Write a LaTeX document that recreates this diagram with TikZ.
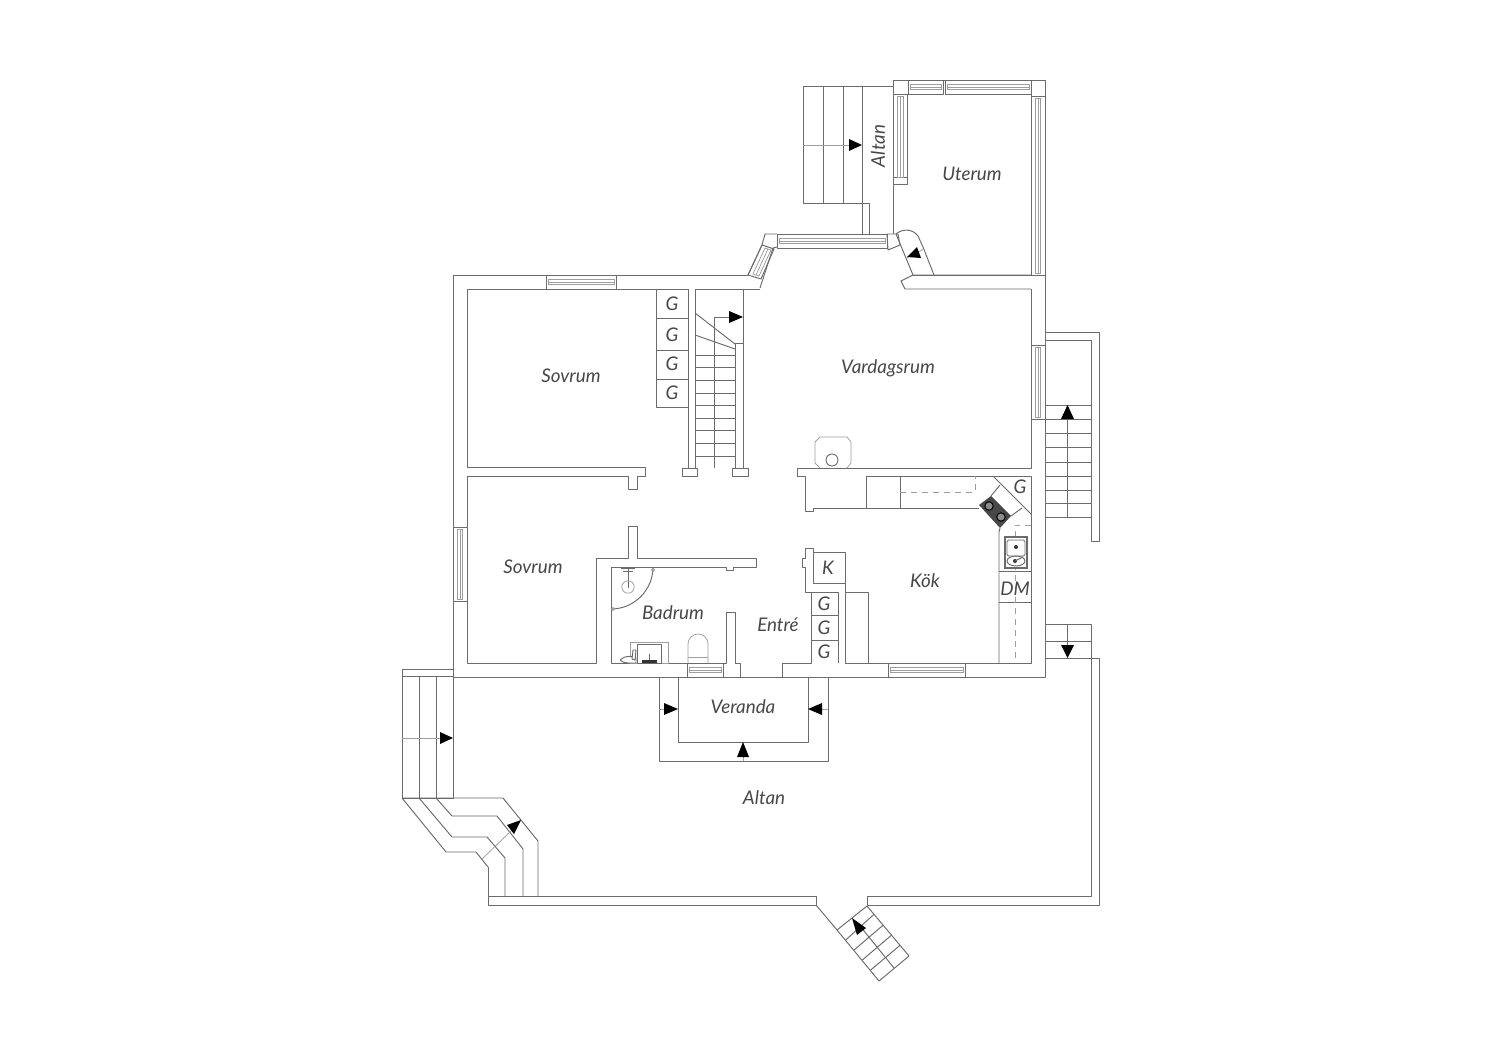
\documentclass[tikz,border=0pt]{standalone}
\usepackage{fontspec}
\setmainfont{Lato}
\usetikzlibrary{arrows.meta}
\definecolor{wallc}{gray}{0.42}
\definecolor{finec}{gray}{0.62}
\tikzset{
  wl/.style={draw=wallc,line width=0.95pt,line join=round},
  fine/.style={draw=finec,line width=0.75pt},
  dashln/.style={draw=finec,line width=0.8pt,dash pattern=on 6pt off 5pt},
  lab/.style={font=\fontsize{18.8}{20}\selectfont\itshape,text=black!72,inner sep=0pt},
  ah/.style={fill=black,draw=none}
}
\newcommand{\winH}[3]{% x1,x2,ytop  (height 14)
  \draw[wl] (#1,#3) rectangle (#2,#3+14);
  \draw[fine] (#1+2,#3+4.5) rectangle (#2-2,#3+9.5);
  \draw[fine] (#1+2,#3+7) -- (#2-2,#3+7);}
\newcommand{\winV}[3]{% xleft,y1,y2
  \draw[wl] (#1,#2) rectangle (#1+14,#3);
  \draw[fine] (#1+4.5,#2+2) rectangle (#1+9.5,#3-2);
  \draw[fine] (#1+7,#2+2) -- (#1+7,#3-2);}
\begin{document}
\begin{tikzpicture}[x=1pt,y=-1pt]
\useasboundingbox (0,0) rectangle (1500,1060);
\fill[white] (0,0) rectangle (1500,1060);
% outer walls
\draw[wl] (748,275) -- (453,275) -- (453,677) -- (1045,677) -- (1045,80) -- (893,80) -- (893,234);
\draw[wl] (748,275) -- (762,245) -- (765,234) -- (777,234);
\draw[wl] (760,288) -- (773,248) -- (777,247);
% diagonal window
\draw[wl] (762,245) -- (774,249) -- (761,279) -- (748,275) -- cycle;
\draw[fine] (765,248) -- (771,250) -- (759,276) -- (753,274) -- cycle;
\draw[fine] (768,249) -- (756,275);
% upper window
\winH{777}{887}{234}
\winH{546}{616}{275}
\winH{888}{965}{663}
\winH{687}{723}{663}
\winV{453}{527}{601}
\winV{1031}{345}{419}
\winV{1031}{96}{275}
% uterum
\draw[wl] (893,94) rectangle (908,80);
\draw[wl] (1031,96) rectangle (1045,80);
\winH{908}{943}{80}
\winH{945}{1031}{80}
\draw[wl] (893,94) -- (907,94) -- (907,184) -- (893,184);
\draw[wl] (893,177) -- (907,177);
\draw[fine] (897,96) rectangle (903,177);
\draw[fine] (900,96) -- (900,177);
% door uterum / vardagsrum
\draw[wl] (887,234) -- (898,234) -- (900,245) -- (888,250) -- cycle;
\draw[wl] (913,275) -- (896,234) .. controls (902,229) and (912,228) .. (918,236) -- (923,247) -- (934,275);
\draw[wl] (1031,275) -- (913,275) -- (901,281) -- (905,289) -- (1031,289);
\draw[wl] (913,275) -- (1045,275);
\draw[fine] (907,258) -- (924,249);
\fill[ah] (907,257) -- (917,247) -- (921,258) -- cycle;
% room walls: sovrum 1
\draw[wl] (688,468) -- (688,289) -- (467,289) -- (467,467) -- (645,467) -- (645,476) -- (637,476) -- (637,489) -- (628,489) -- (628,476) -- (467,476) -- (467,663) -- (596,663) -- (596,558) -- (628,558) -- (628,526) -- (637,526) -- (637,558) -- (756,558) -- (756,567) -- (733,567) -- (733,570) -- (726,570) -- (726,567) -- (611,567) -- (611,663) -- (726,663) -- (726,612) -- (735,612) -- (735,663) -- (740,663) -- (740,677);
\draw[wl] (782,677) -- (782,663) -- (811,663) -- (811,592) -- (805,592) -- (805,567) -- (802,567) -- (802,558) -- (805,558) -- (805,548) -- (813,548) -- (813,583);
% closet K
\draw[wl] (813,552) -- (845,552) -- (845,663);
\draw[wl] (813,583) -- (845,583);
% closet G
\draw[wl] (811,592) -- (838,592) -- (838,663);
\draw[wl] (811,615) -- (838,615) (811,640) -- (838,640);
% kitchen
\draw[wl] (845,592) -- (868,592) -- (868,663);
\draw[wl] (845,663) -- (1031,663) -- (1031,476) -- (866,476) -- (866,508);
\draw[wl] (797,476) -- (797,468) -- (1031,468) -- (1031,289);
\draw[wl] (797,476) -- (805,476) -- (805,511) -- (813,511) -- (813,508) -- (979,508);
\draw[wl] (900,476) -- (900,508);
\draw[dashln] (900,492) -- (975,492) -- (975,476);
\draw[wl] (993,476) -- (1031,514);
\draw[wl] (1000,485) -- (991,496);
\draw[wl] (1022,508) -- (1011,516);
\draw[wl] (1000,528) -- (999,532) -- (999,663);
\draw[wl] (999,571) -- (1031,571) (999,602) -- (1031,602);
\draw[dashln] (1031,525) -- (1015,525) -- (1015,663);
% stove
\fill[black!72] (979,505) -- (991,496) -- (1011,516) -- (1000,528) -- cycle;
\draw[fill=black!45,draw=black,line width=1pt] (989,506) circle (4.2);
\draw[fill=black!45,draw=black,line width=1pt] (1001,517) circle (4.2);
% sink
\draw[draw=wallc,line width=1.5pt,fill=white] (1005,537) rectangle (1027,568);
\draw[wl,rounded corners=1.5pt] (1007,540) rectangle (1025,556);
\draw[wl] (1016,561) ellipse (9 and 5);
\fill[black!80] (1016,547) circle (2);
\fill[black!80] (1015,561) circle (2);
\draw[wl] (1015,561) -- (1023,557);
% top stair wall
\draw[wl] (695,468) -- (695,289) -- (760,289);
\draw[wl] (743,468) -- (743,289);
\draw[wl] (735,468) -- (735,343) -- (743,343);
\draw[wl] (682,476) rectangle (697,468);
\draw[wl] (732,476) rectangle (748,468);
\draw[wl] (695,313) -- (735,344);
\draw[wl] (695,335) -- (735,349);
\foreach \y in {355,367,380,393,405,418,430,443,456} \draw[wl] (695,\y) -- (735,\y);
\draw[wl] (714,468) -- (714,317) -- (730,317);
\fill[ah] (743,317) -- (729,311) -- (729,323) -- cycle;
% G closets top
\draw[wl] (656,289) -- (656,407) -- (688,407);
\draw[wl] (656,318) -- (688,318) (656,350) -- (688,350) (656,379) -- (688,379);
% bathroom fittings
\draw[wl] (611,609) arc[start angle=90,end angle=0,radius=42];
\draw[fine] (653,570) circle (1.5);
\draw[fine] (613,609) circle (1.5);
\draw[wl] (628,568) -- (628,588);
\draw[fine] (628,587) circle (6.2);
\draw[wl] (621,568.5) -- (635,568.5);
\draw[wl] (623,571) -- (633,571);
\draw[fine] (630,642) rectangle (668,663);
\draw[wl] (637,644) rectangle (661,663);
\draw[wl] (649,654) -- (649,660);
\fill[black!80] (642,660) rectangle (657,663);
\draw[wl,fill=white] (620,660) .. controls (625,655) and (632,656) .. (636,658) -- (636,663) -- (628,663) .. controls (625,663) and (622,662) .. (620,660);
\draw[wl,fill=white] (633,650) -- (636,650) -- (635,660) -- (632,659) -- cycle;
\draw[fine] (688,663) -- (688,644) arc[start angle=180,end angle=360,radius=10] -- (708,663);
\draw[fine] (688,657) -- (708,657);
% fireplace
\draw[fine] (815,463) -- (815,442) -- (820,437) -- (847,437) -- (851,442) -- (851,463) -- (847,468);
\draw[fine] (815,463) -- (820,468);
\draw[wl] (832,460) circle (6);
% steps top
\draw[wl] (803,86) rectangle (862,203);
\draw[wl] (823,86) -- (823,203) (843,86) -- (843,203);
\draw[wl] (862,86) -- (893,86);
\draw[fine] (803,145) -- (850,145);
\draw[wl] (862,203) -- (869,203) -- (869,234) (862,203) -- (862,234);
\fill[ah] (862,145) -- (849,139) -- (849,151) -- cycle;
% right stairs
\draw[wl] (1045,332) -- (1099,332) -- (1099,541) -- (1091,541) -- (1091,340) -- (1045,340);
\foreach \y in {405,419,433,447,462,476,490,503,517} \draw[wl] (1045,\y) -- (1091,\y);
\draw[wl] (1067.5,417) -- (1067.5,517);
\fill[ah] (1067.5,405) -- (1061,419) -- (1074,419) -- cycle;
% lower right stair
\draw[wl] (1045,624) rectangle (1091,658);
\draw[wl] (1045,641) -- (1091,641);
\draw[wl] (1067.5,624) -- (1067.5,646);
\fill[ah] (1067.5,658) -- (1061,645) -- (1074,645) -- cycle;
% terrace rail
\draw[wl] (1091,658) -- (1099,658) -- (1099,905) -- (867,905) -- (867,896) -- (1091,896) -- (1091,658);
\draw[wl] (488,867) -- (488,905) -- (816,905) -- (816,896) -- (488,896);
% front stairs
\draw[wl] (816,905) -- (837,930);
\draw[wl] (837,930) -- (867,906) -- (909,956) -- (879,981) -- cycle;
\foreach \a/\b/\c/\d in {845.7/940/874/914.3,854/950/883.3/925,862.3/960/891.7/935,870.7/970/900/945.3} \draw[wl] (\a,\b) -- (\c,\d);
\draw[wl] (860,926) -- (894,968);
\fill[ah] (852,918) -- (866,928) -- (857,935) -- cycle;
% left stairs
\draw[wl] (402,669) rectangle (453,676);
\draw[wl] (402,676) rectangle (453,798);
\draw[wl] (419,676) -- (419,798) (436,676) -- (436,798);
\draw[fine] (402,738) -- (441,738);
\fill[ah] (453,738) -- (440,732) -- (440,744) -- cycle;
\draw[wl] (402,798) -- (453,798) -- (503,798) -- (538,841) -- (538,897);
\draw[wl] (402,798) -- (446,852) -- (476,852) -- (488,867);
\draw[wl] (419,798) -- (452,837) -- (487,837) -- (505,858) -- (505,897);
\draw[wl] (436,798) -- (452,816) -- (497,816) -- (523,849) -- (523,897);
\draw[fine] (482,859) -- (512,830);
\fill[ah] (521,820) -- (507,825) -- (514,834) -- cycle;
% veranda
\draw[wl] (659,677) -- (659,761) -- (828,761) -- (828,677);
\draw[wl] (678,677) -- (678,742) -- (808,742) -- (808,677);
\draw[fine] (659,709) -- (666,709) (822,709) -- (828,709) (743,755) -- (743,761);
\fill[ah] (678,709) -- (664,703) -- (664,715) -- cycle;
\fill[ah] (808,709) -- (822,703) -- (822,715) -- cycle;
\fill[ah] (743,742) -- (737,757) -- (749,757) -- cycle;
% labels
\node[lab,rotate=90] (altanA) at (878,146) {Altan};
\node[lab] (uterum) at (972,174) {Uterum};
\node[lab] (sovA) at (571,376) {Sovrum};
\node[lab] (vard) at (888,368) {Vardagsrum};
\node[lab] (g1) at (672,304) {G};
\node[lab] (g2) at (672,335) {G};
\node[lab] (g3) at (672,364) {G};
\node[lab] (g4) at (672,393) {G};
\node[lab] (g5) at (1020,487) {G};
\node[lab] (sovB) at (533,567) {Sovrum};
\node[lab] (badrum) at (673,613) {Badrum};
\node[lab] (entre) at (778,625) {Entré};
\node[lab] (k) at (828,568) {K};
\node[lab] (g6) at (824,604) {G};
\node[lab] (g7) at (824,628) {G};
\node[lab] (g8) at (824,652) {G};
\node[lab] (kok) at (925,581) {Kök};
\node[lab] (dm) at (1015,589) {DM};
\node[lab] (veranda) at (743,707) {Veranda};
\node[lab] (altanB) at (764,798) {Altan};
\end{tikzpicture}
\end{document}
